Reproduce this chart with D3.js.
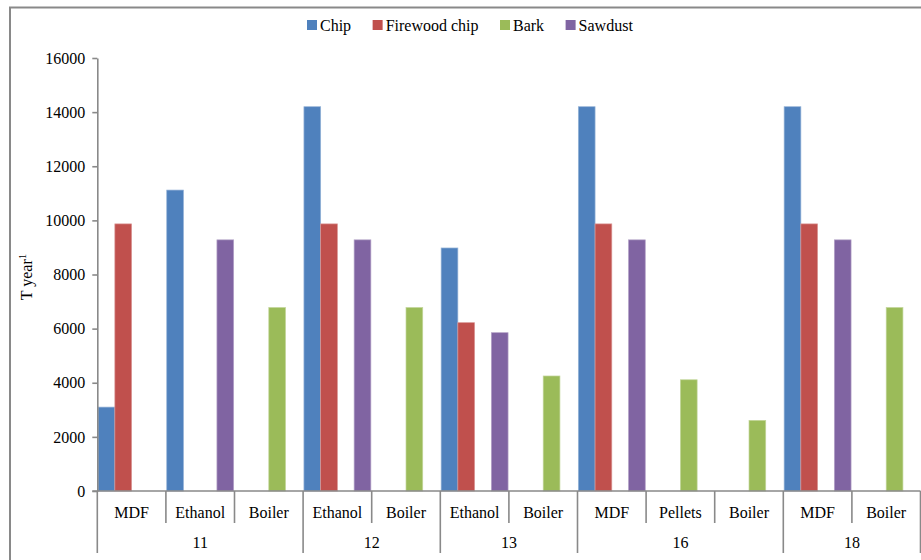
<!DOCTYPE html>
<meta charset="UTF-8">
<script src="https://cdnjs.cloudflare.com/ajax/libs/d3/7.8.5/d3.min.js"></script>
<style>
    body { margin: 0; background: #fff; }
</style>
<svg id="chart" width="921" height="560" font-family="Liberation Serif"></svg>
<script>
    // data
    const series = ["Chip", "Firewood chip", "Bark", "Sawdust"];
    const colors = ["#4f81bd", "#c0504d", "#9bbb59", "#8064a2"];
    const edges = ["#95b3d7", "#d99694", "#c3d69b", "#b3a2c7"];
    const uses = ["MDF", "Ethanol", "Boiler", "Ethanol", "Boiler", "Ethanol", "Boiler", "MDF", "Pellets", "Boiler", "MDF", "Boiler"];
    const useGroup = ["11", "11", "11", "12", "12", "13", "13", "16", "16", "16", "18", "18"];
    const chip = [3100, 11120, 0, 14200, 0, 8980, 0, 14200, 0, 0, 14200, 0];
    const firewood = [9870, 0, 0, 9870, 0, 6220, 0, 9870, 0, 0, 9870, 0];
    const bark = [0, 0, 6780, 0, 6780, 0, 4250, 0, 4110, 2610, 0, 6780];
    const sawdust = [0, 9280, 0, 9280, 0, 5850, 0, 9280, 0, 0, 9280, 0];
    const yTicks = [0, 2000, 4000, 6000, 8000, 10000, 12000, 14000, 16000];

    let svg = d3.select("#chart");
    let plotLeft = 97.3, plotRight = 920.5, plotTop = 58, plotBottom = 491;
    let axisColor = "#898989";
    let serif = "Liberation Serif";

    // outer frame
    svg.append("rect")
        .attr("x", 10).attr("y", 7.5)
        .attr("width", 940).attr("height", 600)
        .attr("fill", "none")
        .attr("stroke", axisColor)
        .attr("stroke-width", 2);

    let idx = d3.range(uses.length);
    let x0 = d3.scaleBand().domain(idx).range([plotLeft, plotRight]).padding(0);
    let x1 = d3.scaleBand().domain(series).range([0, x0.bandwidth()]).paddingInner(0).paddingOuter(0.05);
    let y = d3.scaleLinear().domain([0, 16000]).range([plotBottom, plotTop]);

    let values = [chip, firewood, bark, sawdust];
    let rows = [];
    idx.forEach(function (i) {
        series.forEach(function (s, k) {
            rows.push({i: i, s: s, k: k, v: values[k][i]});
        });
    });

    // bars
    svg.append("g")
        .selectAll("rect")
        .data(rows.filter(d => d.v > 0))
        .enter()
        .append("rect")
        .attr("x", d => x0(d.i) + x1(d.s))
        .attr("y", d => y(d.v))
        .attr("width", x1.bandwidth())
        .attr("height", d => plotBottom - y(d.v))
        .attr("fill", d => colors[d.k])
        .attr("stroke", d => edges[d.k])
        .attr("stroke-width", 0.7);

    // y axis
    let yAxis = svg.append("g")
        .attr("transform", "translate(" + plotLeft + ",0)")
        .call(d3.axisLeft(y).tickValues(yTicks).tickSize(5).tickSizeOuter(0).tickPadding(7).tickFormat(d3.format("d")));
    yAxis.attr("font-family", serif).attr("font-size", 16);
    yAxis.select(".domain").attr("stroke", axisColor).attr("stroke-width", 1.6);
    yAxis.selectAll(".tick line").attr("stroke", axisColor).attr("stroke-width", 1.6);
    yAxis.selectAll(".tick text").attr("fill", "#000");

    // y label
    let ylab = svg.append("text")
        .attr("transform", "translate(32,277) rotate(-90)")
        .attr("text-anchor", "middle")
        .attr("font-family", serif)
        .attr("font-size", 16);
    ylab.append("tspan").text("T year");
    ylab.append("tspan").attr("dy", -6).attr("font-size", 11).text("1");

    // x axis: baseline + category separators
    let xg = svg.append("g").attr("font-family", serif).attr("font-size", 16);
    xg.append("line")
        .attr("x1", plotLeft - 5).attr("x2", plotRight)
        .attr("y1", plotBottom).attr("y2", plotBottom)
        .attr("stroke", axisColor).attr("stroke-width", 1.6);

    let seps = idx.concat([uses.length]);
    xg.selectAll("line.sep")
        .data(seps)
        .enter()
        .append("line")
        .attr("class", "sep")
        .attr("x1", i => i < uses.length ? x0(i) : plotRight)
        .attr("x2", i => i < uses.length ? x0(i) : plotRight)
        .attr("y1", plotBottom)
        .attr("y2", function (i) {
            if (i === 0 || i === uses.length) return 553;
            return useGroup[i] !== useGroup[i - 1] ? 553 : 523;
        })
        .attr("stroke", axisColor).attr("stroke-width", 1.6);

    xg.selectAll("text.use")
        .data(idx)
        .enter()
        .append("text")
        .attr("class", "use")
        .attr("x", i => x0(i) + x0.bandwidth() / 2)
        .attr("y", 518)
        .attr("text-anchor", "middle")
        .text(i => uses[i]);

    let groups = Array.from(new Set(useGroup));
    xg.selectAll("text.grp")
        .data(groups)
        .enter()
        .append("text")
        .attr("class", "grp")
        .attr("x", function (g) {
            let members = idx.filter(i => useGroup[i] === g);
            return (x0(members[0]) + x0(members[members.length - 1]) + x0.bandwidth()) / 2;
        })
        .attr("y", 548)
        .attr("text-anchor", "middle")
        .text(g => g);

    // legend
    let legend = svg.append("g").attr("font-family", serif).attr("font-size", 16);
    let lx = 307;
    series.forEach(function (s, k) {
        legend.append("rect")
            .attr("x", lx).attr("y", 20)
            .attr("width", 10).attr("height", 10)
            .attr("fill", colors[k]);
        let t = legend.append("text")
            .attr("x", lx + 13).attr("y", 31)
            .text(s);
        lx += 13 + t.node().getComputedTextLength() + 21.5;
    });
</script>
